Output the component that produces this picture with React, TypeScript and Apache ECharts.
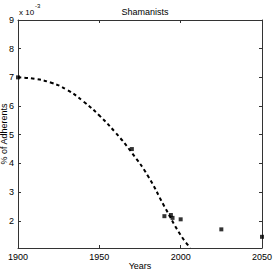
import React, { useEffect, useRef } from "react";
import * as echarts from "echarts";

const pointYears = [1900, 1970, 1990, 1994, 1995, 2000, 2025, 2050];
const pointValues = [7.0, 4.5, 2.16, 2.2, 2.1, 2.05, 1.7, 1.44];

const curveYears = [1900, 1910, 1920, 1930, 1940, 1950, 1960, 1970, 1980, 1990, 2000, 2006];
const curveValues = [7.0, 6.95, 6.82, 6.57, 6.17, 5.67, 5.07, 4.37, 3.55, 2.5, 1.5, 1.05];

const xTicks = [1900, 1950, 2000, 2050];
const yTicks = [2, 3, 4, 5, 6, 7, 8, 9];
const yMin = 1.05;
const yMax = 9;

const FONT = "Liberation Sans, Arial, sans-serif";

export default function App() {
  const ref = useRef<HTMLDivElement>(null);
  useEffect(() => {
    const chart = echarts.init(ref.current!, null, { renderer: "svg" });
    const axisLine = { show: true, lineStyle: { color: "#333", width: 1 } };
    const xTick = { show: true, inside: true, length: 3, lineStyle: { color: "#333" }, customValues: xTicks };
    const yTick = { show: true, inside: true, length: 3, lineStyle: { color: "#333" }, customValues: yTicks };
    chart.setOption({
      animation: false,
      backgroundColor: "#fff",
      title: {
        text: "Shamanists",
        left: 140,
        top: 2,
        textAlign: "center",
        textStyle: { fontFamily: FONT, fontSize: 9, fontWeight: "normal", color: "#000" },
      },
      grid: { left: 18, right: 11, top: 20, bottom: 25, containLabel: false, outerBoundsMode: "none" },
      xAxis: [
        {
          type: "value",
          min: 1900,
          max: 2050,
          axisLine,
          axisTick: xTick,
          splitLine: { show: false },
          axisLabel: {
            fontFamily: FONT,
            fontSize: 9,
            color: "#000",
            margin: 4,
            customValues: xTicks,
            formatter: (v: number) => String(v),
          },
          name: "Years",
          nameLocation: "middle",
          nameGap: 13,
          nameMoveOverlap: false,
          nameTextStyle: { fontFamily: FONT, fontSize: 9, lineHeight: 10, color: "#000" },
        },
        {
          type: "value",
          position: "top",
          min: 1900,
          max: 2050,
          axisLine,
          axisTick: xTick,
          splitLine: { show: false },
          axisLabel: { show: false },
        },
      ],
      yAxis: [
        {
          type: "value",
          min: yMin,
          max: yMax,
          axisLine,
          axisTick: yTick,
          splitLine: { show: false },
          axisLabel: {
            fontFamily: FONT,
            fontSize: 9,
            color: "#000",
            margin: 4,
            customValues: yTicks,
          },
          name: "% of Adherents",
          nameLocation: "middle",
          nameGap: 9,
          nameMoveOverlap: false,
          nameTextStyle: { fontFamily: FONT, fontSize: 9, lineHeight: 10, color: "#000" },
        },
        {
          type: "value",
          position: "right",
          min: yMin,
          max: yMax,
          axisLine,
          axisTick: yTick,
          splitLine: { show: false },
          axisLabel: { show: false },
        },
      ],
      graphic: [
        {
          type: "text",
          left: 19,
          top: 3,
          style: {
            text: "{a|x 10}{b|-3}",
            rich: {
              a: { fontFamily: FONT, fontSize: 8, color: "#000", padding: [5, 0, 0, 0] },
              b: { fontFamily: FONT, fontSize: 6, color: "#000", verticalAlign: "top", padding: [0, 0, 4, 1] },
            },
          },
        },
      ],
      series: [
        {
          type: "line",
          data: curveYears.map((y, i) => [y, curveValues[i]]),
          showSymbol: false,
          symbol: "none",
          smooth: true,
          lineStyle: { color: "#000", width: 2, type: [3.5, 3] },
          clip: true,
          z: 2,
        },
        {
          type: "scatter",
          data: pointYears.map((y, i) => [y, pointValues[i]]),
          symbol: "rect",
          symbolSize: 4,
          itemStyle: { color: "#000" },
          z: 3,
        },
      ],
    });
    return () => chart.dispose();
  }, []);
  return (
    <div
      ref={ref}
      style={{ position: "fixed", left: 0, top: 0, width: 273, height: 273, background: "#fff" }}
    />
  );
}
